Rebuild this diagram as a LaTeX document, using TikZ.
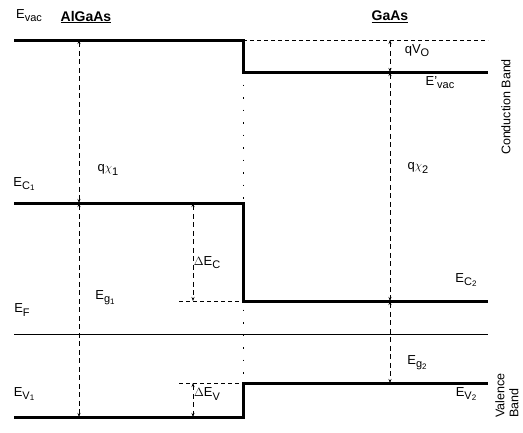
\documentclass[tikz,border=0pt]{standalone}
\usepackage{fontspec}
\setmainfont{Liberation Sans}
\usetikzlibrary{arrows.meta}
\newcommand{\lsub}[1]{\raisebox{-0.45ex}{\fontsize{11}{11}\selectfont #1}}
\newcommand{\ssub}[1]{\raisebox{-0.3ex}{\fontsize{8}{8}\selectfont #1}}
\begin{document}
\begin{tikzpicture}[x=1pt,y=-1pt,
  band/.style={line width=3pt},
  thin/.style={line width=0.8pt},
  guide/.style={line width=0.7pt,dash pattern=on 4pt off 3pt},
  dotline/.style={line width=0.9pt,dash pattern=on 1.5pt off 11pt},
  dim/.style={line width=0.7pt,dash pattern=on 5pt off 3.5pt,{Stealth[length=4pt,width=3pt]}-{Stealth[length=4pt,width=3pt]}},
  lab/.style={inner sep=0pt,font=\fontsize{13}{15}\selectfont},
  ttl/.style={inner sep=0pt,font=\fontsize{14}{16}\selectfont\bfseries}]
\useasboundingbox (0,0) rectangle (523,432);
% level coordinates
\coordinate (v1L) at (14,40);   \coordinate (v1R) at (243,40);
\coordinate (v2L) at (243,72);  \coordinate (v2R) at (488,72);
\coordinate (dvR) at (488,40);
\coordinate (c1L) at (14,203);  \coordinate (c1R) at (243,203);
\coordinate (c2L) at (243,301); \coordinate (c2R) at (488,301);
\coordinate (dcL) at (179,301);
\coordinate (fL) at (14,334);   \coordinate (fR) at (488,334);
\coordinate (w2L) at (243,383); \coordinate (w2R) at (488,383);
\coordinate (dwL) at (179,383);
\coordinate (w1L) at (14,417);  \coordinate (w1R) at (243,417);
% dimension points
\coordinate (a0) at (79,40); \coordinate (a1) at (79,203); \coordinate (a2) at (79,417);
\coordinate (b0) at (193,203); \coordinate (b1) at (193,301);
\coordinate (b2) at (193,383); \coordinate (b3) at (193,417);
\coordinate (g0) at (390,40); \coordinate (g1) at (390,72);
\coordinate (g2) at (390,301); \coordinate (g3) at (390,383);
% guides
\draw[guide] (v1R) -- (dvR);
\draw[guide] (dcL) -- (c2L);
\draw[guide] (dwL) -- (w2L);
\draw[dotline] (v2L) -- (w2L);
% bands
\draw[band] (v1L) -- (v1R) -- (v2L) -- (v2R);
\draw[band] (c1L) -- (c1R) -- (c2L) -- (c2R);
\draw[band] (w1L) -- (w1R) -- (w2L) -- (w2R);
\draw[thin] (fL) -- (fR);
% dimensions
\draw[dim] (a0) -- (a1);
\draw[dim] (a1) -- (a2);
\draw[dim] (b0) -- (b1);
\draw[dim] (b2) -- (b3);
\draw[dim] (g0) -- (g1);
\draw[dim] (g1) -- (g2);
\draw[dim] (g2) -- (g3);
% labels
\node[lab] (tEvac) at (29,16) {E\lsub{vac}};
\node[lab,font=\fontsize{14}{16}\selectfont\bfseries] (tAl) at (86,17) {\underline{AlGaAs}};
\node[ttl] (tGa) at (390,17) {\underline{GaAs}};
\node[lab] (tqV) at (417,51) {qV\lsub{O}};
\node[lab] (tEv2) at (440,83) {E'\lsub{vac}};
\node[lab] (tqx1) at (108,170) {q$\chi$\lsub{1}};
\node[lab] (tEC1) at (24,184) {E\lsub{C\ssub{1}}};
\node[lab] (tdEC) at (207,263) {$\Delta$E\lsub{C}};
\node[lab] (tEg1) at (105,298) {E\lsub{g\ssub{1}}};
\node[lab] (tEF) at (22,310) {E\lsub{F}};
\node[lab] (tqx2) at (418,168) {q$\chi$\lsub{2}};
\node[lab] (tEC2) at (466,280) {E\lsub{C\ssub{2}}};
\node[lab] (tEg2) at (417,363) {E\lsub{g\ssub{2}}};
\node[lab] (tEV1) at (24,394) {E\lsub{V\ssub{1}}};
\node[lab] (tdEV) at (207,394) {$\Delta$E\lsub{V}};
\node[lab] (tEV2) at (466,394) {E\lsub{V\ssub{2}}};
\node[lab,rotate=90,font=\fontsize{12.5}{14}\selectfont] (tCB) at (506,107) {Conduction Band};
\node[lab,rotate=90,align=left,anchor=west,font=\fontsize{12.5}{14}\selectfont] (tVB) at (507,418) {Valence\\Band};
\end{tikzpicture}
\end{document}
